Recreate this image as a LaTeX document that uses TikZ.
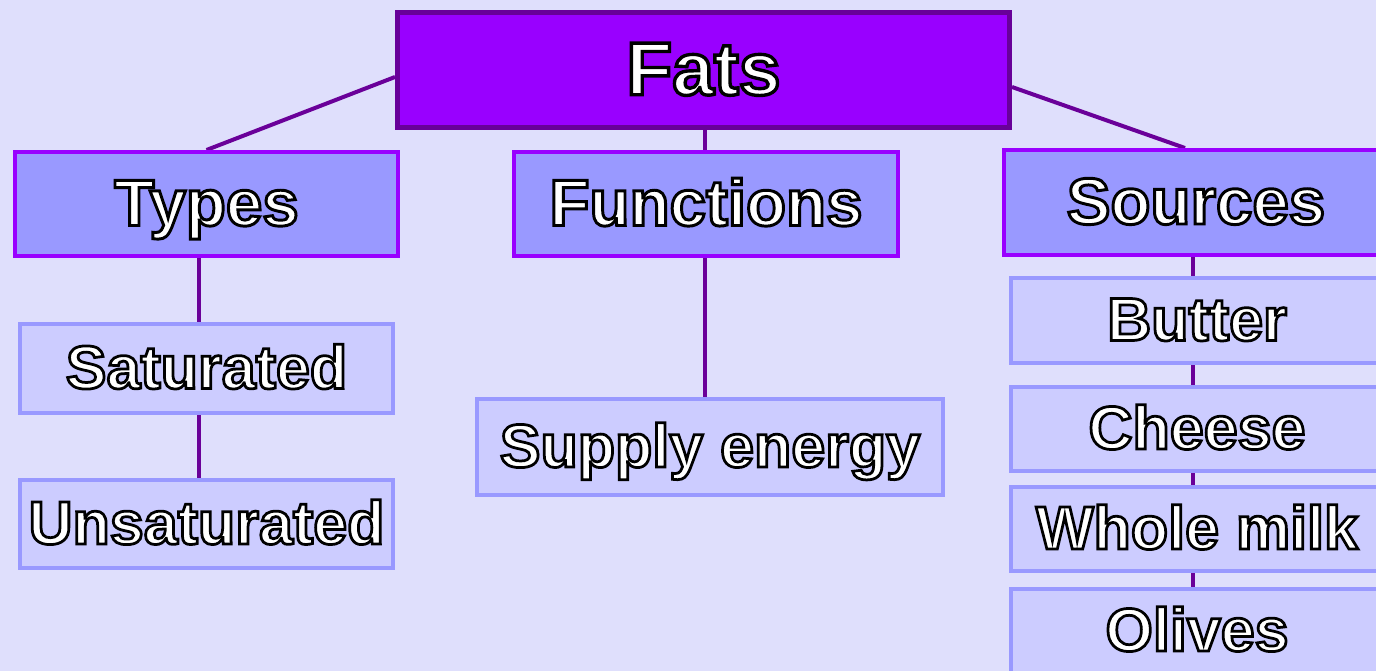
\documentclass[tikz,border=0pt]{standalone}
\usepackage{fontspec}
\setmainfont{Liberation Sans}
\newfontfamily\olfont{Liberation Sans Bold}[FakeBold=4.5]
\usetikzlibrary{backgrounds}
\definecolor{bgc}{HTML}{DFDFFC}
\definecolor{topfill}{HTML}{9900FF}
\definecolor{topline}{HTML}{680099}
\definecolor{midfill}{HTML}{9999FF}
\definecolor{midline}{HTML}{9900FF}
\definecolor{lowfill}{HTML}{CCCCFF}
\definecolor{lowline}{HTML}{9999FF}
\definecolor{conn}{HTML}{6A0099}
\newcommand\otext[1]{\special{pdf:code 0 0 0 RG}#1}
\tikzset{
  boxbase/.style={inner sep=0pt, text=white, text depth=0pt},
  topbox/.style={boxbase, draw=topline, fill=topfill, line width=5pt,
    text height=49.5pt, font=\olfont\fontsize{75}{85}\selectfont},
  midbox/.style={boxbase, draw=midline, fill=midfill, line width=4pt,
    text height=43pt, font=\olfont\fontsize{65.5}{75}\selectfont},
  lowbox/.style={boxbase, draw=lowline, fill=lowfill, line width=4pt,
    text height=40pt, font=\olfont\fontsize{61}{71}\selectfont},
  link/.style={draw=conn, line width=4pt}
}
\begin{document}
\begin{tikzpicture}[x=1pt,y=-1pt]
\useasboundingbox (0,0) rectangle (1376,671);
\node[topbox, minimum width=612pt, minimum height=115pt] (fats) at (703.5,70) {\otext{Fats}};
\node[midbox, minimum width=383pt, minimum height=104pt] (types) at (206.5,204) {\otext{Types}};
\node[midbox, minimum width=384pt, minimum height=104pt] (functions) at (706,204) {\otext{Functions}};
\node[midbox, minimum width=384pt, minimum height=105pt] (sources) at (1196,202.5) {\otext{Sources}};
\node[lowbox, minimum width=373pt, minimum height=89pt] (sat) at (206.5,368.5) {\otext{Saturated}};
\node[lowbox, minimum width=373pt, minimum height=88pt] (unsat) at (206.5,524) {\otext{Unsaturated}};
\node[lowbox, minimum width=466pt, minimum height=96pt] (supply) at (710,447) {\otext{Supply energy}};
\node[lowbox, minimum width=372pt, minimum height=85pt] (butter) at (1197,320.5) {\otext{Butter}};
\node[lowbox, minimum width=372pt, minimum height=84pt] (cheese) at (1197,429) {\otext{Cheese}};
\node[lowbox, minimum width=372pt, minimum height=84pt] (milk) at (1197,529) {\otext{Whole milk}};
\node[lowbox, minimum width=372pt, minimum height=84pt] (olives) at (1197,631) {\otext{Olives}};
\begin{pgfonlayer}{background}
\fill[bgc] (0,0) rectangle (1376,671);
\draw[link] ([yshift=-7pt]fats.west) -- (types.north);
\draw[link] ([yshift=-17pt]fats.east) -- ([xshift=-11pt]sources.north);
\draw[link] ([xshift=-1pt]functions.north) -- ([xshift=-1pt]functions.north |- fats.south);
\draw[link] ([xshift=-8pt]types.south) -- ([xshift=-8pt]sat.north);
\draw[link] ([xshift=-8pt]sat.south) -- ([xshift=-8pt]unsat.north);
\draw[link] ([xshift=-1pt]functions.south) -- ([xshift=-1pt]functions.south |- supply.north);
\draw[link] ([xshift=-3pt]sources.south) -- ([xshift=-3pt]sources.south |- butter.north);
\draw[link] ([xshift=-4pt]butter.south) -- ([xshift=-4pt]cheese.north);
\draw[link] ([xshift=-4pt]cheese.south) -- ([xshift=-4pt]milk.north);
\draw[link] ([xshift=-4pt]milk.south) -- ([xshift=-4pt]olives.north);
\end{pgfonlayer}
\end{tikzpicture}
\end{document}
